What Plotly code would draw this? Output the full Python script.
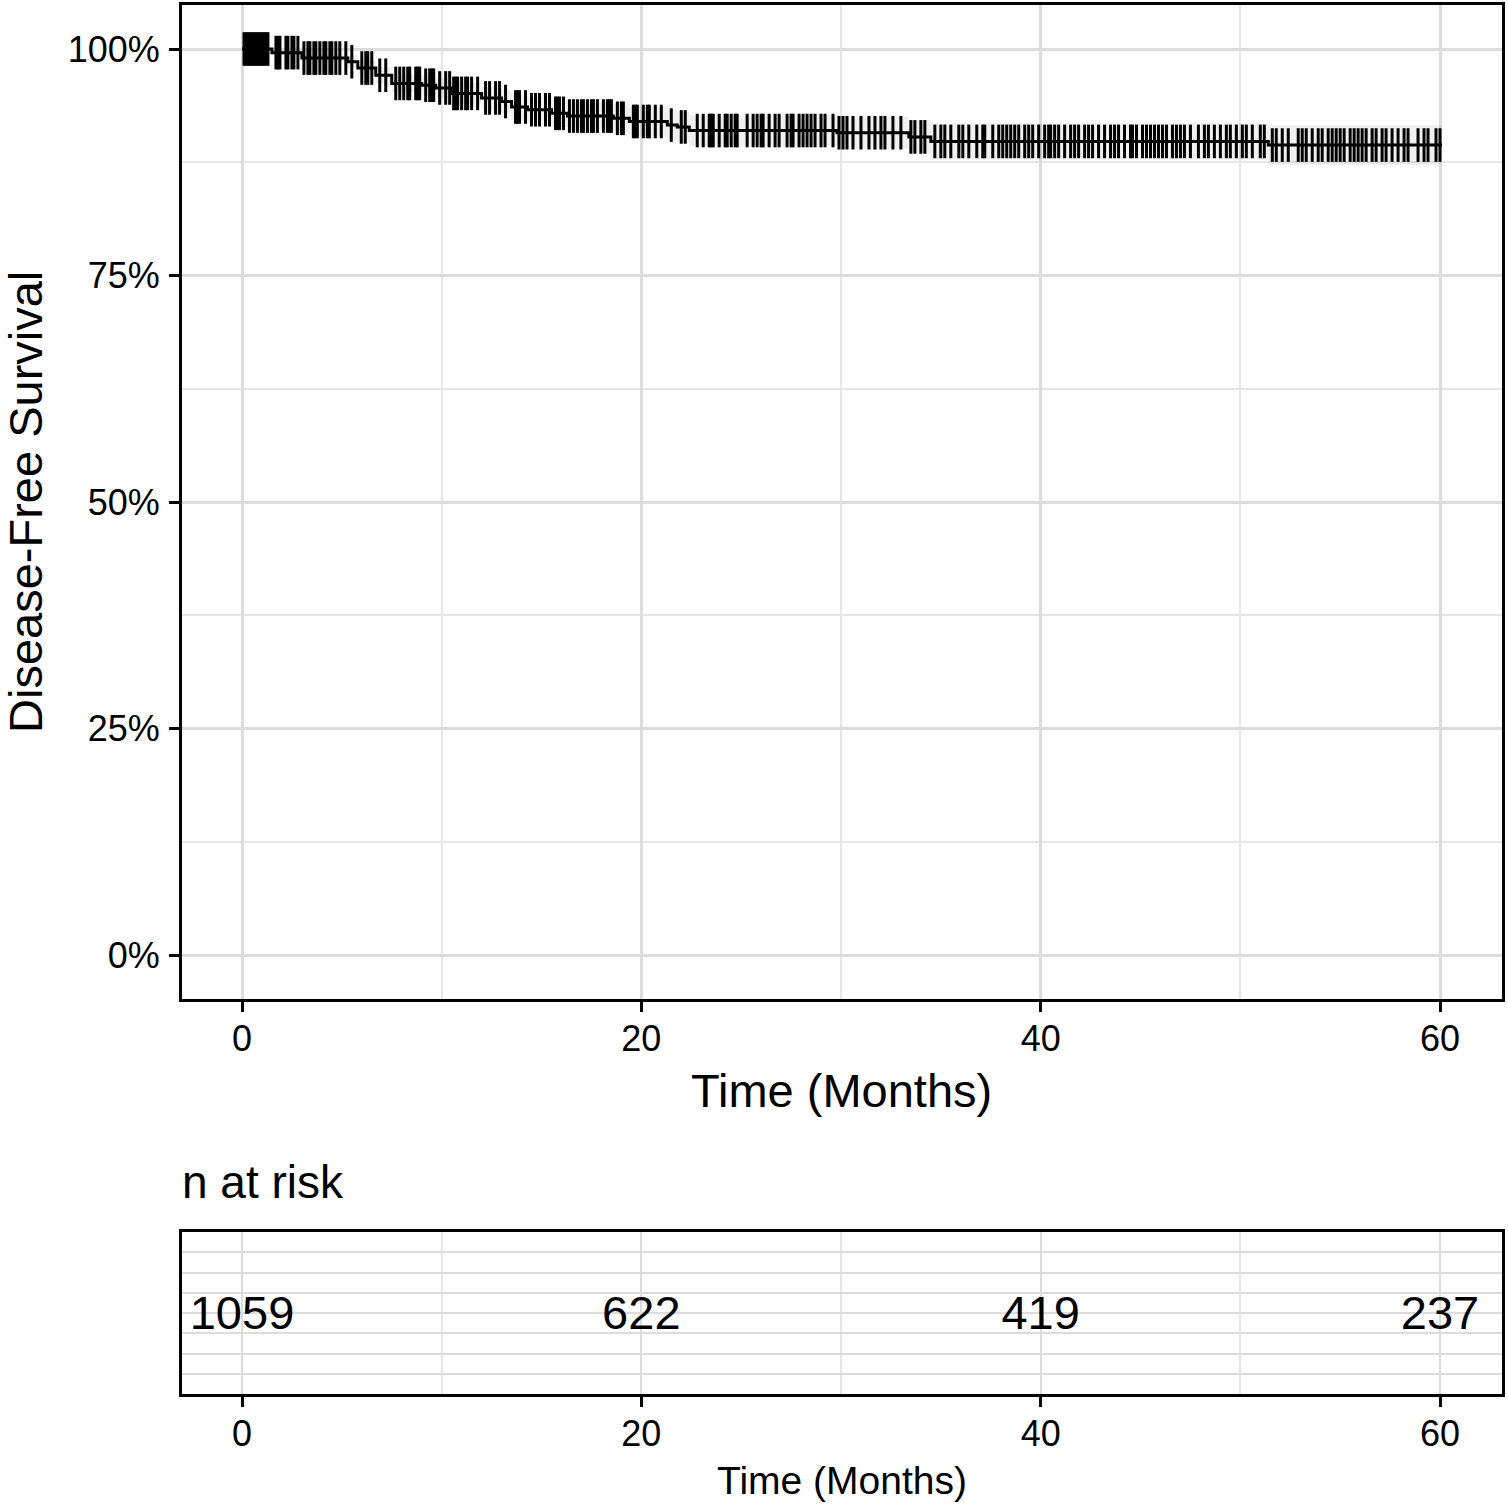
import numpy as np
import plotly.graph_objects as go

# ---- data ----
event_times = [0, 1.5, 3.0, 5.3, 5.8, 6.7, 7.5, 9.0, 9.7, 10.5, 12.0, 13.0, 13.5, 14.3,
               15.5, 16.3, 18.6, 19.4, 21.3, 21.8, 22.4, 29.8, 33.4, 34.5, 51.4]
survival = [1.0, 0.996, 0.990, 0.986, 0.979, 0.971, 0.962, 0.960, 0.957, 0.951, 0.946,
            0.942, 0.936, 0.933, 0.929, 0.926, 0.9235, 0.920, 0.916, 0.914, 0.910,
            0.9076, 0.903, 0.898, 0.894]
ci_halfwidth = [0, 0.003, 0.005, 0.007, 0.008, 0.009, 0.010, 0.011, 0.011, 0.012, 0.013,
                0.013, 0.014, 0.014, 0.015, 0.015, 0.016, 0.016, 0.017, 0.017, 0.017,
                0.018, 0.019, 0.020, 0.022]
follow_up_end = 60.1

censor_times = [
    0.1, 0.2, 0.3, 0.4, 0.5, 0.6, 0.7, 0.8, 0.9, 1.0, 1.1, 1.2, 1.3, 1.7, 1.8, 1.9, 2.2, 2.3,
    2.5, 2.6, 2.8, 3.1, 3.3, 3.4, 3.6, 3.7, 3.9, 4.1, 4.2, 4.4, 4.5, 4.7, 4.9,
    5.2, 5.5, 6.0, 6.2, 6.3, 6.5, 6.9, 7.2, 7.7, 7.9, 8.1, 8.3, 8.4, 8.7, 8.8, 8.9, 9.2,
    9.4, 9.5, 9.6, 9.9, 10.2, 10.4, 10.6, 10.7, 10.8, 11.0, 11.2, 11.3, 11.5, 11.8, 12.2,
    12.4, 12.7, 12.9, 13.2, 13.7, 13.8, 13.9, 14.2, 14.5, 14.7, 14.9,
    15.2, 15.4, 15.7, 15.8, 15.9, 16.1, 16.4, 16.6, 16.8, 17.0, 17.1, 17.3, 17.5, 17.6,
    17.8, 18.1, 18.3, 18.4, 18.5, 18.8, 19.0, 19.1, 19.6, 19.7, 19.8, 20.1, 20.3, 20.4,
    20.7, 21.0, 21.5, 22.0, 22.2, 22.8, 23.1, 23.4, 23.5, 23.6, 23.9, 24.2, 24.3, 24.5,
    24.7, 24.8, 25.3, 25.6, 25.8, 26.0, 26.1, 26.4, 26.7, 26.9, 27.3, 27.5, 27.6, 27.9,
    28.1, 28.3, 28.5, 28.7, 29.0, 29.2, 29.6, 29.9, 30.1, 30.3, 30.6, 31.0, 31.4, 31.7,
    32.0, 32.2, 32.6, 33.0, 33.5, 33.7, 34.0, 34.2, 34.7,
    35.0, 35.2, 35.5, 35.9, 36.1, 36.4, 36.8, 37.1, 37.2, 37.6, 37.9, 38.1, 38.3, 38.5,
    38.7, 38.9, 39.2, 39.4, 39.6, 39.9, 40.2, 40.4, 40.5, 40.7, 40.9, 41.2, 41.5, 41.7,
    41.9, 42.2, 42.4, 42.6, 42.9, 43.2, 43.5, 43.7, 43.9, 44.2, 44.5, 44.6, 44.8,
    45.1, 45.3, 45.5, 45.7, 45.9, 46.1, 46.3, 46.6, 46.8, 47.0, 47.2, 47.5, 47.9, 48.2,
    48.4, 48.7, 49.0, 49.3, 49.5, 49.8, 50.1, 50.3, 50.6, 51.0, 51.2,
    51.6, 51.8, 52.1, 52.4, 52.9, 53.1, 53.3, 53.6, 53.9, 54.1, 54.4, 54.6, 54.8, 55.0,
    55.2, 55.5, 55.7, 55.9, 56.1, 56.3, 56.6, 56.8, 57.1, 57.3, 57.6, 57.9, 58.2, 58.4,
    58.9, 59.2, 59.4, 59.8, 60.0,
]

risk_times = [0, 20, 40, 60]
n_at_risk = [1059, 622, 419, 237]

# ---- derived series ----
t_arr = np.array(event_times + [follow_up_end])
s_arr = np.array(survival + [survival[-1]])
hw = np.array(ci_halfwidth + [ci_halfwidth[-1]])
lower = s_arr - hw
upper = s_arr + hw
c_arr = np.array(censor_times)
c_idx = np.searchsorted(np.array(event_times), c_arr, side="right") - 1
c_surv = np.array(survival)[c_idx]

FONT = "Liberation Sans, Arial, sans-serif"
GRID = "#dcdcdc"
MINOR = "#e6e6e6"

fig = go.Figure()

# confidence band
fig.add_trace(go.Scatter(x=t_arr, y=lower, mode="lines", line=dict(width=0, shape="hv"),
                         hoverinfo="skip", showlegend=False, xaxis="x", yaxis="y"))
fig.add_trace(go.Scatter(x=t_arr, y=upper, mode="lines", line=dict(width=0, shape="hv"),
                         fill="tonexty", fillcolor="rgba(0,0,0,0.06)",
                         hoverinfo="skip", showlegend=False, xaxis="x", yaxis="y"))
# KM curve
fig.add_trace(go.Scatter(x=t_arr, y=s_arr, mode="lines",
                         line=dict(color="black", width=3, shape="hv"),
                         showlegend=False, xaxis="x", yaxis="y"))
# censor marks
fig.add_trace(go.Scatter(x=c_arr, y=c_surv, mode="markers",
                         marker=dict(symbol="line-ns", size=24,
                                     line=dict(color="black", width=3)),
                         showlegend=False, xaxis="x", yaxis="y"))
# risk table numbers
fig.add_trace(go.Scatter(x=risk_times, y=[3.8] * len(risk_times), mode="text",
                         text=[str(v) for v in n_at_risk],
                         textfont=dict(family=FONT, size=47, color="black"),
                         textposition="middle center", showlegend=False,
                         xaxis="x2", yaxis="y2"))

axis_common = dict(showline=True, mirror=True, linecolor="black", linewidth=3,
                   zeroline=False, automargin=False)

fig.update_layout(
    width=1508, height=1507,
    margin=dict(l=0, r=0, t=0, b=0),
    paper_bgcolor="white", plot_bgcolor="white",
    font=dict(family=FONT, color="black"),
    xaxis=dict(domain=[182 / 1508, 1502 / 1508], range=[-3.005, 63.105],
               tickmode="array", tickvals=[0, 20, 40, 60],
               ticks="outside", ticklen=10, tickwidth=3, tickcolor="black",
               tickfont=dict(size=36, color="black"), ticklabelstandoff=-4,
               showgrid=True, gridcolor=GRID, gridwidth=2.5,
               minor=dict(tickmode="array", tickvals=[10, 30, 50], showgrid=True,
                          gridcolor=MINOR, gridwidth=1.5, ticks=""),
               anchor="y", **axis_common),
    yaxis=dict(domain=[1 - 999 / 1507, 1 - 5 / 1507], range=[-0.04857, 1.04857],
               tickmode="array", tickvals=[0, 0.25, 0.5, 0.75, 1.0],
               ticktext=["0%", "25%", "50%", "75%", "100%"],
               ticks="outside", ticklen=10, tickwidth=3, tickcolor="black",
               tickfont=dict(size=36, color="black"), ticklabelstandoff=2,
               showgrid=True, gridcolor=GRID, gridwidth=2.5,
               minor=dict(tickmode="array", tickvals=[0.125, 0.375, 0.625, 0.875],
                          showgrid=True, gridcolor=MINOR, gridwidth=1.5, ticks=""),
               anchor="x", **axis_common),
    xaxis2=dict(domain=[182 / 1508, 1502 / 1508], range=[-3.005, 63.105],
                tickmode="array", tickvals=[0, 20, 40, 60],
                ticks="outside", ticklen=10, tickwidth=3, tickcolor="black",
                tickfont=dict(size=36, color="black"), ticklabelstandoff=-4,
                showgrid=True, gridcolor=GRID, gridwidth=2,
                minor=dict(tickmode="array", tickvals=[10, 30, 50], showgrid=True,
                           gridcolor=MINOR, gridwidth=1.5, ticks=""),
                anchor="y2", **axis_common),
    yaxis2=dict(domain=[1 - 1394 / 1507, 1 - 1232 / 1507], range=[0, 8],
                tickmode="array", tickvals=[1, 2, 3, 4, 5, 6, 7],
                showticklabels=False, ticks="",
                showgrid=True, gridcolor=GRID, gridwidth=2,
                anchor="x2", **axis_common),
    annotations=[
        dict(text="Time (Months)", x=842 / 1508, y=1 - 1090 / 1507,
             xref="paper", yref="paper", xanchor="center", yanchor="middle",
             showarrow=False, font=dict(size=47, color="black")),
        dict(text="Disease-Free Survival", x=25 / 1508, y=1 - 502 / 1507,
             xref="paper", yref="paper", xanchor="center", yanchor="middle",
             textangle=-90, showarrow=False, font=dict(size=47, color="black")),
        dict(text="n at risk", x=180 / 1508, y=1 - 1182 / 1507,
             xref="paper", yref="paper", xanchor="left", yanchor="middle",
             showarrow=False, font=dict(size=46, color="black")),
        dict(text="Time (Months)", x=842 / 1508, y=1 - 1480 / 1507,
             xref="paper", yref="paper", xanchor="center", yanchor="middle",
             showarrow=False, font=dict(size=39, color="black")),
    ],
)

fig.write_html("out.html", config={"displayModeBar": False},
               post_script="document.body.style.margin='0';document.body.style.overflow='hidden';")
